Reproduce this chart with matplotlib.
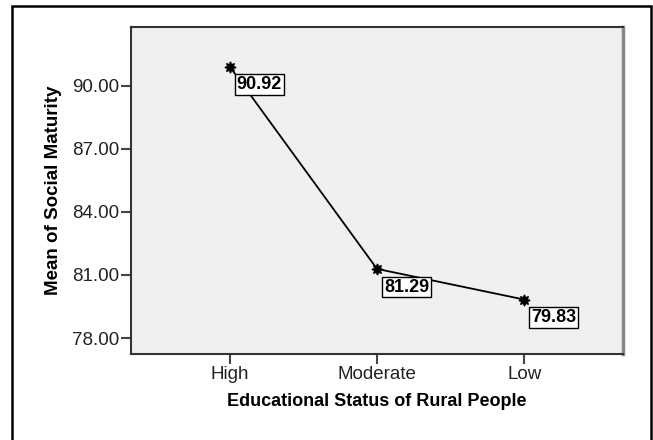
import matplotlib.pyplot as plt
from matplotlib.patches import Rectangle

plt.rcParams['font.family'] = ['Liberation Sans', 'DejaVu Sans']

# data
levels = ['High', 'Moderate', 'Low']
means = [90.92, 81.29, 79.83]
yticks = [78.0, 81.0, 84.0, 87.0, 90.0]

fig = plt.figure(figsize=(6.53, 4.40), dpi=100)
W, H = 653, 440
ax = fig.add_axes([131 / W, 1 - 354 / H, (623 - 131) / W, (354 - 27) / H])
ax.set_facecolor('#f0f0f0')

x = list(range(len(levels)))
ax.plot(x, means, color='black', lw=1.3, marker=(8, 1, 0), ms=8,
        mfc='black', mec='black', zorder=3)

for i, v in zip(x, means):
    ax.annotate(f'{v:.2f}', (i, v), xytext=(5, -7), textcoords='offset points',
                ha='left', va='top', fontsize=13, fontweight='bold',
                bbox=dict(boxstyle='square,pad=0.1', fc='white', ec='black', lw=1),
                zorder=4)

ax.set_xlim(-0.67, 2.67)
ax.set_ylim(77.24, 92.8)
ax.set_xticks(x)
ax.set_xticklabels(levels)
ax.set_yticks(yticks)
ax.set_yticklabels([f'{t:.2f}' for t in yticks])
ax.tick_params(direction='out', length=7, width=1.5, color='#444444',
               labelsize=13.5, labelcolor='#222222', pad=1.5)

for s in ax.spines.values():
    s.set_color('#333333')
    s.set_linewidth(1.5)
ax.spines['right'].set_color('#888888')
ax.spines['right'].set_linewidth(2.5)

ax.set_xlabel('Educational Status of Rural People', fontsize=13,
              fontweight='bold', labelpad=7)
ax.set_ylabel('Mean of Social Maturity', fontsize=13.5, fontweight='bold',
              labelpad=7)

# outer chart frame
frame = Rectangle((12 / W, -0.1), (651 - 12) / W, 1.1 - 6 / H,
                  transform=fig.transFigure, fill=False, ec='black', lw=1.8)
fig.patches.append(frame)

fig.savefig('out.png', dpi=100)
